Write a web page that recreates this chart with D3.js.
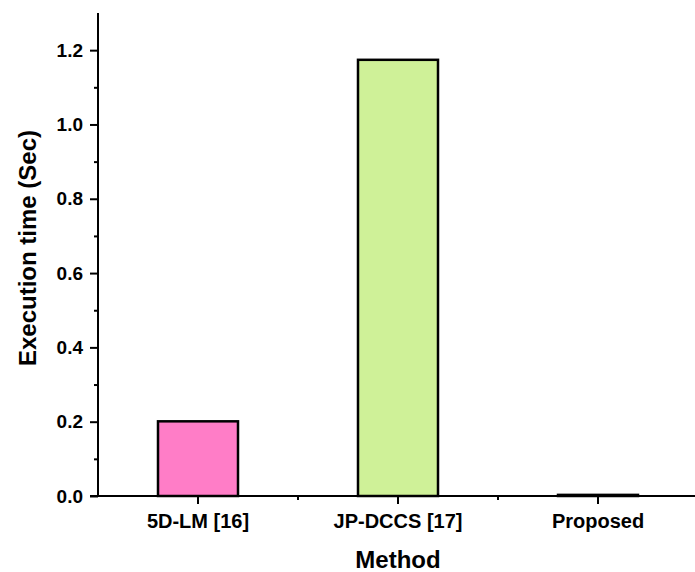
<!DOCTYPE html>
<html><head><meta charset="utf-8">
<script src="https://cdn.jsdelivr.net/npm/d3@7"></script>
<style>body{margin:0;background:#fff}svg{display:block}text{font-family:"Liberation Sans",Arial,sans-serif;font-weight:bold}</style>
</head><body>
<script>
const categories = ["5D-LM [16]", "JP-DCCS [17]", "Proposed"];
const values = [0.201, 1.174, 0.003];
const colors = ["#FF7DC7", "#CFF198", "#CFF198"];
const yTicks = [0.0, 0.2, 0.4, 0.6, 0.8, 1.0, 1.2];
const yMinorTicks = [0.1, 0.3, 0.5, 0.7, 0.9, 1.1];

const W = 695, H = 572;
const svg = d3.select("body").append("svg").attr("width", W).attr("height", H);
const x = d3.scaleBand().domain(categories).range([98, 698]).paddingInner(0).paddingOuter(0);
const y = d3.scaleLinear().domain([0, 1.3]).range([496, 13]);
const barW = x.bandwidth() * 0.4;

// bars
svg.selectAll("rect.bar").data(categories).enter().append("rect")
  .attr("x", d => x(d) + (x.bandwidth() - barW) / 2)
  .attr("y", (d, i) => y(values[i]))
  .attr("width", barW)
  .attr("height", (d, i) => y(0) - y(values[i]))
  .attr("fill", (d, i) => colors[i])
  .attr("stroke", "#000").attr("stroke-width", 2.5);

// y axis
const yAxis = d3.axisLeft(y).tickValues(yTicks).tickFormat(d3.format(".1f")).tickSize(8).tickPadding(7);
const gy = svg.append("g").attr("transform", "translate(98,0)").call(yAxis);
gy.select(".domain").attr("stroke-width", 2).attr("d", `M0,${y(1.3)}V${y(0)}`);
gy.selectAll(".tick line").attr("stroke-width", 2);
gy.selectAll(".tick text").attr("font-size", 19).attr("fill", "#000");
svg.append("g").attr("transform", "translate(98,0)")
  .call(d3.axisLeft(y).tickValues(yMinorTicks).tickSize(4).tickFormat(""))
  .call(g => { g.select(".domain").remove(); g.selectAll("line").attr("stroke-width", 2); });

// x axis
const xAxis = d3.axisBottom(x).tickSize(8).tickPadding(10).tickSizeOuter(0);
const gx = svg.append("g").attr("transform", `translate(0,${y(0)})`).call(xAxis);
gx.select(".domain").attr("stroke-width", 2).attr("d", "M90,0H698");
gx.selectAll(".tick line").attr("stroke-width", 2);
gx.selectAll(".tick text").attr("font-size", 20).attr("fill", "#000");
const bounds = categories.slice(1).map(c => x(c));
gx.selectAll("line.minor").data(bounds).enter().append("line")
  .attr("x1", d => d).attr("x2", d => d).attr("y1", 0).attr("y2", 4)
  .attr("stroke", "#000").attr("stroke-width", 2);

// titles
svg.append("text").attr("x", 398).attr("y", 568).attr("text-anchor", "middle")
  .attr("font-size", 24).text("Method");
svg.append("text").attr("transform", `translate(36,248) rotate(-90)`)
  .attr("text-anchor", "middle").attr("font-size", 24).text("Execution time (Sec)");
</script>
</body></html>
